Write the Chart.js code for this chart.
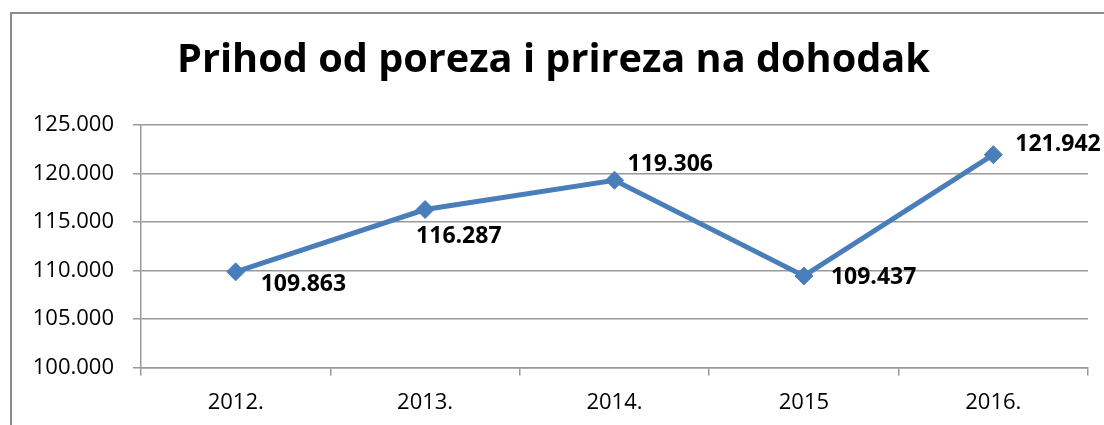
<!DOCTYPE html>
<html><head><meta charset="utf-8">
<script src="https://cdn.jsdelivr.net/npm/chart.js@4.4.0/dist/chart.umd.min.js"></script>
<style>
html,body{margin:0;padding:0;background:#fff;overflow:hidden}
#wrap{position:relative;width:1104px;height:425px;overflow:hidden}
#frame{position:absolute;left:10px;top:12px;width:1200px;height:500px;border-left:2px solid #8c8c8c;border-top:2px solid #8c8c8c}
canvas{position:absolute;left:0;top:0}
</style></head><body>
<div id="wrap"><div id="frame"></div><canvas id="c" width="1104" height="425"></canvas></div>
<script>
const title = 'Prihod od poreza i prireza na dohodak';
const categories = ['2012.', '2013.', '2014.', '2015', '2016.'];
const values = [109863, 116287, 119306, 109437, 121942];
const yMin = 100000, yMax = 125000, yStep = 5000;

const fmt = n => String(Math.round(n)).replace(/\B(?=(\d{3})+(?!\d))/g, '.');
const FONT = "'Open Sans', 'Liberation Sans', sans-serif";

const titlePlugin = {
  id: 'titleDraw',
  afterDraw(chart) {
    const ctx = chart.ctx;
    ctx.save();
    let size = 44;
    ctx.font = 'bold ' + size + 'px ' + FONT;
    const w = ctx.measureText(title).width;
    size = size * 753 / w;
    ctx.font = 'bold ' + size + 'px ' + FONT;
    ctx.fillStyle = '#000';
    ctx.textAlign = 'center';
    ctx.textBaseline = 'alphabetic';
    ctx.fillText(title, 553.5, 72);
    ctx.restore();
  }
};

const labelPlugin = {
  id: 'pointLabels',
  afterDatasetsDraw(chart, args, opts) {
    const ctx = chart.ctx;
    const meta = chart.getDatasetMeta(0);
    ctx.save();
    ctx.font = 'bold 23px ' + FONT;
    ctx.fillStyle = '#000';
    ctx.textAlign = 'left';
    ctx.textBaseline = 'middle';
    meta.data.forEach((pt, i) => {
      const off = opts.offsets[i];
      ctx.fillText(fmt(values[i]), pt.x + off[0], pt.y + off[1]);
    });
    ctx.restore();
  }
};

new Chart(document.getElementById('c'), {
  type: 'line',
  data: {
    labels: categories,
    datasets: [{
      data: values,
      borderColor: '#4a7ebb',
      backgroundColor: '#4a7ebb',
      borderWidth: 5,
      pointStyle: 'rectRot',
      pointRadius: 9,
      pointHoverRadius: 9,
      pointBorderWidth: 1,
      tension: 0,
      fill: false
    }]
  },
  options: {
    responsive: false,
    animation: false,
    events: [],
    layout: { padding: { top: 125, right: 16, left: 0, bottom: 0 } },
    plugins: {
      legend: { display: false },
      title: { display: false },
      tooltip: { enabled: false },
      pointLabels: { offsets: [[25, 13], [-9, 27], [13, -16], [27, 1], [22, -10]] }
    },
    scales: {
      x: {
        offset: true,
        grid: { offset: true, drawOnChartArea: false, drawTicks: true, tickLength: 8, color: '#999', lineWidth: 1.5 },
        border: { color: '#999', width: 1.5 },
        ticks: { padding: 14, color: '#000', font: { family: FONT, size: 22 } },
        afterFit(s) { s.height = 57.5; }
      },
      y: {
        min: yMin, max: yMax,
        ticks: { stepSize: yStep, padding: 19, color: '#000', font: { family: FONT, size: 22 }, callback: v => fmt(v) },
        grid: { color: '#999', lineWidth: 1.5, tickLength: 8 },
        border: { color: '#999', width: 1.5 },
        afterFit(s) { s.width = 141; }
      }
    }
  },
  plugins: [titlePlugin, labelPlugin]
});
</script>
</body></html>
